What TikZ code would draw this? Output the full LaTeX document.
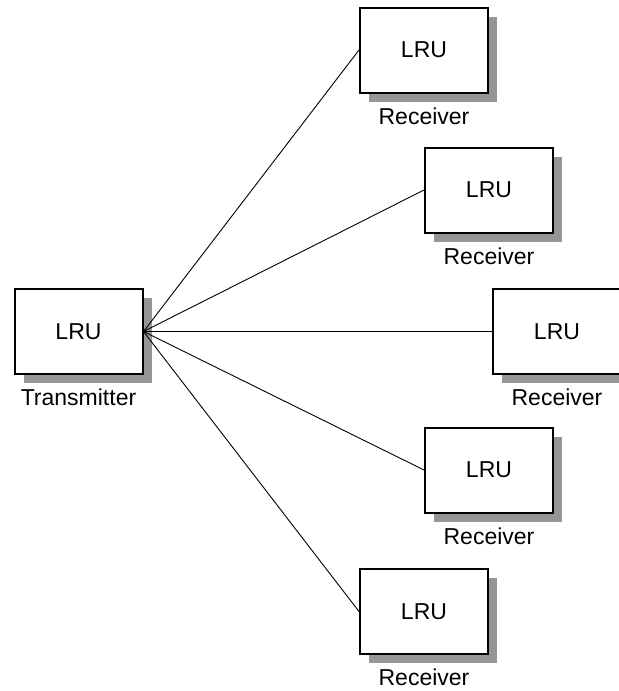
\documentclass[tikz,border=0pt]{standalone}
\usepackage{fontspec}
\setmainfont{Liberation Sans}
\usetikzlibrary{shadows}

\definecolor{shadowgray}{RGB}{150,150,152}

\tikzset{
    lru/.style={draw, line width=1pt, fill=white,
        minimum width=64pt, minimum height=42.5pt,
        font=\fontsize{11.5}{13.5}\selectfont,
        drop shadow={shadow xshift=4.5pt, shadow yshift=-4.5pt,
            fill=shadowgray, opacity=1}},
    tag/.style={font=\fontsize{11.5}{13.5}\selectfont, label distance=3.6pt},
    wire/.style={line width=0.45pt}
}

\begin{document}
\begin{tikzpicture}[x=0.5pt,y=-0.5pt]
    \useasboundingbox (0,0) rectangle (618,691);

    \node[lru, label={[tag]below:Transmitter}] (tx) at (78.5,331.5) {LRU};

    \node[lru, label={[tag]below:Receiver}] (rx1) at (424,50) {LRU};
    \node[lru, label={[tag]below:Receiver}] (rx2) at (489,190) {LRU};
    \node[lru, label={[tag]below:Receiver}] (rx3) at (557,331.5) {LRU};
    \node[lru, label={[tag]below:Receiver}] (rx4) at (489,470) {LRU};
    \node[lru, label={[tag]below:Receiver}] (rx5) at (424,611.5) {LRU};

    \foreach \r in {rx1,rx2,rx3,rx4,rx5}
        \draw[wire] (tx.east) -- (\r.west);
\end{tikzpicture}
\end{document}
